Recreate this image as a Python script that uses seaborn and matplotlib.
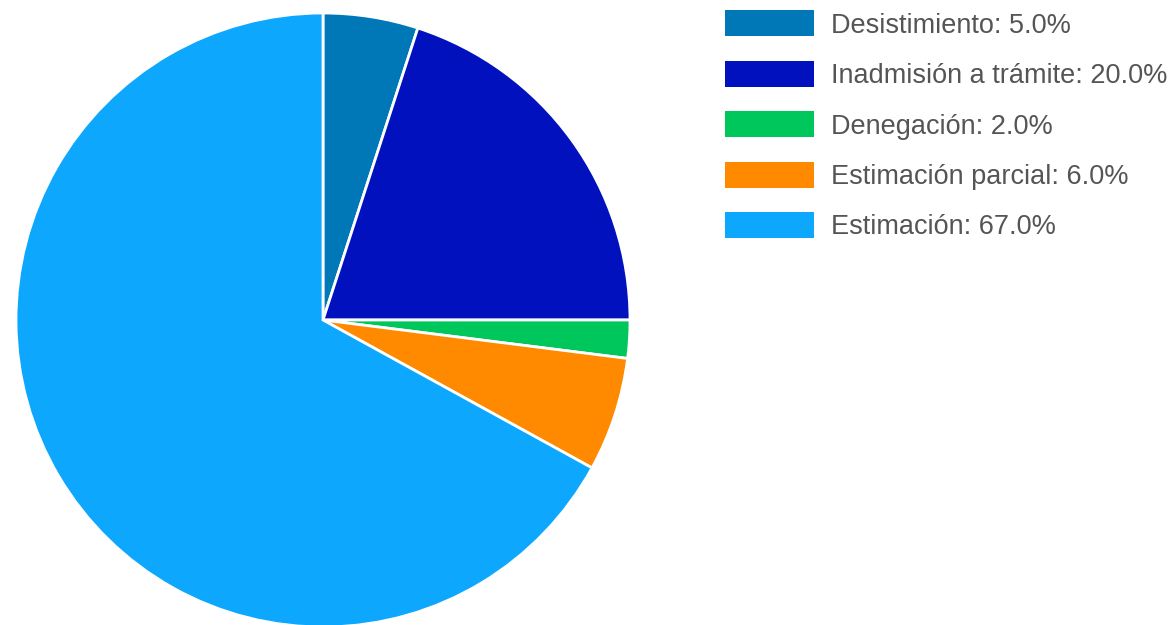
import matplotlib

matplotlib.use("Agg")
import matplotlib.pyplot as plt  # noqa: E402
import seaborn as sns  # noqa: E402

sns.set_theme(style="white")
plt.rcParams["font.family"] = ["Liberation Sans", "DejaVu Sans"]

categories = ["Desistimiento", "Inadmisión a trámite", "Denegación",
              "Estimación parcial", "Estimación"]
shares = [5.0, 20.0, 2.0, 6.0, 67.0]
colors = ["#0077B6", "#0011BD", "#00C75B", "#FF8A00", "#0DA8FE"]

W, H = 1171, 625
fig = plt.figure(figsize=(W / 100, H / 100), dpi=100)

# pie centred at (323, 320) px from top, radius ~307 px
r = 307
cx, cy = 323, H - 320
ax = fig.add_axes([(cx - r) / W, (cy - r) / H, 2 * r / W, 2 * r / H])
wedges, _ = ax.pie(shares, colors=colors, startangle=90, counterclock=False,
                   radius=1.0, wedgeprops=dict(edgecolor="white", linewidth=2.0))
ax.set_xlim(-1, 1)
ax.set_ylim(-1, 1)
ax.set_aspect("equal")
ax.axis("off")

labels = [f"{c}: {v:.1f}%" for c, v in zip(categories, shares)]
leg = fig.legend(wedges, labels, loc="upper left",
                 bbox_to_anchor=(725 / W, 1 - 10.5 / H), frameon=False,
                 fontsize=19.5, handlelength=3.3, handleheight=1.1,
                 handletextpad=0.6, labelspacing=0.82,
                 borderpad=0, borderaxespad=0)
for t in leg.get_texts():
    t.set_color("#555555")
for h in leg.legend_handles:
    h.set_linewidth(0)

fig.savefig("out.png", dpi=100)
